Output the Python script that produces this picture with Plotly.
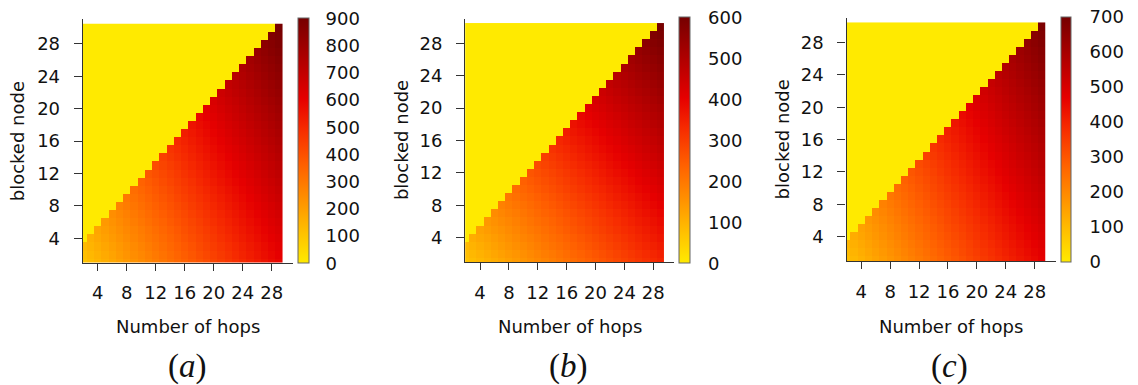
import plotly.graph_objects as go

# Axes: number of hops (columns) and blocked node position (rows)
hops = list(range(2, 30))
nodes = list(range(1, 31))
hop_ticks = [4, 8, 12, 16, 20, 24, 28]
node_ticks = [4, 8, 12, 16, 20, 24, 28]

# Each row lists the values for one blocked node, for hops >= node - 1
# (cells to the left of that are 0).
values_a = [
    [105, 123, 141, 159, 177, 195, 213, 231, 249, 267, 285, 303, 321, 339, 357, 375, 393, 411, 429, 447, 465, 483, 501, 519, 537, 555, 573, 591],
    [116, 134, 152, 170, 188, 206, 224, 242, 260, 278, 296, 314, 332, 350, 368, 386, 404, 422, 440, 458, 476, 494, 512, 530, 548, 566, 584, 602],
    [126, 144, 162, 180, 198, 216, 234, 252, 270, 288, 306, 324, 342, 360, 378, 396, 414, 432, 450, 468, 486, 504, 522, 540, 558, 576, 594, 612],
    [155, 173, 191, 209, 227, 245, 263, 281, 299, 317, 335, 353, 371, 389, 407, 425, 443, 461, 479, 497, 515, 533, 551, 569, 587, 605, 623],
    [183, 201, 219, 237, 255, 273, 291, 309, 327, 345, 363, 381, 399, 417, 435, 453, 471, 489, 507, 525, 543, 561, 579, 597, 615, 633],
    [212, 230, 248, 266, 284, 302, 320, 338, 356, 374, 392, 410, 428, 446, 464, 482, 500, 518, 536, 554, 572, 590, 608, 626, 644],
    [241, 259, 277, 295, 313, 331, 349, 367, 385, 403, 421, 439, 457, 475, 493, 511, 529, 547, 565, 583, 601, 619, 637, 655],
    [269, 287, 305, 323, 341, 359, 377, 395, 413, 431, 449, 467, 485, 503, 521, 539, 557, 575, 593, 611, 629, 647, 665],
    [298, 316, 334, 352, 370, 388, 406, 424, 442, 460, 478, 496, 514, 532, 550, 568, 586, 604, 622, 640, 658, 676],
    [326, 344, 362, 380, 398, 416, 434, 452, 470, 488, 506, 524, 542, 560, 578, 596, 614, 632, 650, 668, 686],
    [355, 373, 391, 409, 427, 445, 463, 481, 499, 517, 535, 553, 571, 589, 607, 625, 643, 661, 679, 697],
    [384, 402, 420, 438, 456, 474, 492, 510, 528, 546, 564, 582, 600, 618, 636, 654, 672, 690, 708],
    [412, 430, 448, 466, 484, 502, 520, 538, 556, 574, 592, 610, 628, 646, 664, 682, 700, 718],
    [441, 459, 477, 495, 513, 531, 549, 567, 585, 603, 621, 639, 657, 675, 693, 711, 729],
    [469, 487, 505, 523, 541, 559, 577, 595, 613, 631, 649, 667, 685, 703, 721, 739],
    [498, 516, 534, 552, 570, 588, 606, 624, 642, 660, 678, 696, 714, 732, 750],
    [527, 545, 563, 581, 599, 617, 635, 653, 671, 689, 707, 725, 743, 761],
    [555, 573, 591, 609, 627, 645, 663, 681, 699, 717, 735, 753, 771],
    [584, 602, 620, 638, 656, 674, 692, 710, 728, 746, 764, 782],
    [612, 630, 648, 666, 684, 702, 720, 738, 756, 774, 792],
    [641, 659, 677, 695, 713, 731, 749, 767, 785, 803],
    [670, 688, 706, 724, 742, 760, 778, 796, 814],
    [698, 716, 734, 752, 770, 788, 806, 824],
    [727, 745, 763, 781, 799, 817, 835],
    [755, 773, 791, 809, 827, 845],
    [784, 802, 820, 838, 856],
    [813, 831, 849, 867],
    [841, 859, 877],
    [870, 888],
    [898],
]

values_b = [
    [70, 80, 90, 100, 110, 120, 130, 140, 150, 160, 170, 180, 190, 200, 210, 220, 230, 240, 250, 260, 270, 280, 290, 300, 310, 320, 330, 340],
    [79, 89, 99, 109, 119, 129, 139, 149, 159, 169, 179, 189, 199, 209, 219, 229, 239, 249, 259, 269, 279, 289, 299, 309, 319, 329, 339, 349],
    [88, 98, 108, 118, 128, 138, 148, 158, 168, 178, 188, 198, 208, 218, 228, 238, 248, 258, 268, 278, 288, 298, 308, 318, 328, 338, 348, 358],
    [107, 117, 127, 137, 147, 157, 167, 177, 187, 197, 207, 217, 227, 237, 247, 257, 267, 277, 287, 297, 307, 317, 327, 337, 347, 357, 367],
    [126, 136, 146, 156, 166, 176, 186, 196, 206, 216, 226, 236, 246, 256, 266, 276, 286, 296, 306, 316, 326, 336, 346, 356, 366, 376],
    [145, 155, 165, 175, 185, 195, 205, 215, 225, 235, 245, 255, 265, 275, 285, 295, 305, 315, 325, 335, 345, 355, 365, 375, 385],
    [164, 174, 184, 194, 204, 214, 224, 234, 244, 254, 264, 274, 284, 294, 304, 314, 324, 334, 344, 354, 364, 374, 384, 394],
    [183, 193, 203, 213, 223, 233, 243, 253, 263, 273, 283, 293, 303, 313, 323, 333, 343, 353, 363, 373, 383, 393, 403],
    [202, 212, 222, 232, 242, 252, 262, 272, 282, 292, 302, 312, 322, 332, 342, 352, 362, 372, 382, 392, 402, 412],
    [221, 231, 241, 251, 261, 271, 281, 291, 301, 311, 321, 331, 341, 351, 361, 371, 381, 391, 401, 411, 421],
    [240, 250, 260, 270, 280, 290, 300, 310, 320, 330, 340, 350, 360, 370, 380, 390, 400, 410, 420, 430],
    [259, 269, 279, 289, 299, 309, 319, 329, 339, 349, 359, 369, 379, 389, 399, 409, 419, 429, 439],
    [278, 288, 298, 308, 318, 328, 338, 348, 358, 368, 378, 388, 398, 408, 418, 428, 438, 448],
    [297, 307, 317, 327, 337, 347, 357, 367, 377, 387, 397, 407, 417, 427, 437, 447, 457],
    [316, 326, 336, 346, 356, 366, 376, 386, 396, 406, 416, 426, 436, 446, 456, 466],
    [335, 345, 355, 365, 375, 385, 395, 405, 415, 425, 435, 445, 455, 465, 475],
    [354, 364, 374, 384, 394, 404, 414, 424, 434, 444, 454, 464, 474, 484],
    [373, 383, 393, 403, 413, 423, 433, 443, 453, 463, 473, 483, 493],
    [392, 402, 412, 422, 432, 442, 452, 462, 472, 482, 492, 502],
    [411, 421, 431, 441, 451, 461, 471, 481, 491, 501, 511],
    [430, 440, 450, 460, 470, 480, 490, 500, 510, 520],
    [449, 459, 469, 479, 489, 499, 509, 519, 529],
    [468, 478, 488, 498, 508, 518, 528, 538],
    [487, 497, 507, 517, 527, 537, 547],
    [506, 516, 526, 536, 546, 556],
    [525, 535, 545, 555, 565],
    [544, 554, 564, 574],
    [563, 573, 583],
    [582, 592],
    [599],
]

values_c = [
    [90, 104, 118, 132, 146, 160, 174, 188, 202, 216, 230, 244, 258, 272, 286, 300, 314, 328, 342, 356, 370, 384, 398, 412, 426, 440, 454, 468],
    [98, 112, 126, 140, 154, 168, 182, 196, 210, 224, 238, 252, 266, 280, 294, 308, 322, 336, 350, 364, 378, 392, 406, 420, 434, 448, 462, 476],
    [105, 119, 133, 147, 161, 175, 189, 203, 217, 231, 245, 259, 273, 287, 301, 315, 329, 343, 357, 371, 385, 399, 413, 427, 441, 455, 469, 483],
    [127, 141, 155, 169, 183, 197, 211, 225, 239, 253, 267, 281, 295, 309, 323, 337, 351, 365, 379, 393, 407, 421, 435, 449, 463, 477, 491],
    [148, 162, 176, 190, 204, 218, 232, 246, 260, 274, 288, 302, 316, 330, 344, 358, 372, 386, 400, 414, 428, 442, 456, 470, 484, 498],
    [170, 184, 198, 212, 226, 240, 254, 268, 282, 296, 310, 324, 338, 352, 366, 380, 394, 408, 422, 436, 450, 464, 478, 492, 506],
    [191, 205, 219, 233, 247, 261, 275, 289, 303, 317, 331, 345, 359, 373, 387, 401, 415, 429, 443, 457, 471, 485, 499, 513],
    [213, 227, 241, 255, 269, 283, 297, 311, 325, 339, 353, 367, 381, 395, 409, 423, 437, 451, 465, 479, 493, 507, 521],
    [234, 248, 262, 276, 290, 304, 318, 332, 346, 360, 374, 388, 402, 416, 430, 444, 458, 472, 486, 500, 514, 528],
    [256, 270, 284, 298, 312, 326, 340, 354, 368, 382, 396, 410, 424, 438, 452, 466, 480, 494, 508, 522, 536],
    [277, 291, 305, 319, 333, 347, 361, 375, 389, 403, 417, 431, 445, 459, 473, 487, 501, 515, 529, 543],
    [299, 313, 327, 341, 355, 369, 383, 397, 411, 425, 439, 453, 467, 481, 495, 509, 523, 537, 551],
    [320, 334, 348, 362, 376, 390, 404, 418, 432, 446, 460, 474, 488, 502, 516, 530, 544, 558],
    [342, 356, 370, 384, 398, 412, 426, 440, 454, 468, 482, 496, 510, 524, 538, 552, 566],
    [363, 377, 391, 405, 419, 433, 447, 461, 475, 489, 503, 517, 531, 545, 559, 573],
    [385, 399, 413, 427, 441, 455, 469, 483, 497, 511, 525, 539, 553, 567, 581],
    [406, 420, 434, 448, 462, 476, 490, 504, 518, 532, 546, 560, 574, 588],
    [428, 442, 456, 470, 484, 498, 512, 526, 540, 554, 568, 582, 596],
    [449, 463, 477, 491, 505, 519, 533, 547, 561, 575, 589, 603],
    [471, 485, 499, 513, 527, 541, 555, 569, 583, 597, 611],
    [492, 506, 520, 534, 548, 562, 576, 590, 604, 618],
    [514, 528, 542, 556, 570, 584, 598, 612, 626],
    [535, 549, 563, 577, 591, 605, 619, 633],
    [557, 571, 585, 599, 613, 627, 641],
    [578, 592, 606, 620, 634, 648],
    [600, 614, 628, 642, 656],
    [621, 635, 649, 663],
    [643, 657, 671],
    [664, 678],
    [686],
]

scale_max = [900, 600, 700]
panel_labels = ["(<i>a</i>)", "(<i>b</i>)", "(<i>c</i>)"]
x_title = "Number of hops"
y_title = "blocked node"

W, H = 1138, 385
FONT = "DejaVu Sans"
INK = "#111111"

colorscale = [
    [0.00, "#FFEA00"],
    [0.12, "#FFC200"],
    [0.25, "#FF9400"],
    [0.40, "#FF6000"],
    [0.55, "#F62A00"],
    [0.67, "#E60000"],
    [0.83, "#B00000"],
    [1.00, "#760000"],
]


def full_grid(rows):
    """Pad each row with zeros on the left so every row spans all hops."""
    return [[0] * (len(hops) - len(r)) + list(r) for r in rows]


# Pixel geometry of the three panels: plot box (left, right, top, bottom),
# colour bar box (left, right, top, bottom) and left edge of its labels.
panels = [
    dict(box=(82.8, 292.7, 19.3, 262.6), bar=(297.7, 309.3, 18.3, 263.3),
         bar_labels=326.5, ytitle_x=18.3, xtitle_x=187.8, label_x=187.0),
    dict(box=(465.2, 674.2, 18.6, 262.0), bar=(679.3, 691.0, 17.3, 263.3),
         bar_labels=709.0, ytitle_x=400.8, xtitle_x=570.0, label_x=568.3),
    dict(box=(846.5, 1055.6, 18.0, 260.9), bar=(1060.7, 1072.0, 16.7, 261.7),
         bar_labels=1090.5, ytitle_x=782.0, xtitle_x=950.7, label_x=949.7),
]

fig = go.Figure()
annotations = []
layout_axes = {}

for i, (vals, zmax, p) in enumerate(zip([values_a, values_b, values_c], scale_max, panels)):
    n = i + 1
    xa = "x" if n == 1 else f"x{n}"
    ya = "y" if n == 1 else f"y{n}"
    xa_bar, ya_bar = f"x{n + 3}", f"y{n + 3}"
    l, r, t, b = p["box"]
    bl, br, bt, bb = p["bar"]
    bar_ticks = list(range(0, zmax + 1, 100))

    fig.add_trace(go.Heatmap(
        x=hops, y=nodes, z=full_grid(vals),
        zmin=0, zmax=zmax, colorscale=colorscale,
        xaxis=xa, yaxis=ya, hoverinfo="x+y+z",
        colorbar=dict(
            x=bl / W, xanchor="left", xpad=0,
            y=1 - (bt + bb) / 2 / H, yanchor="middle", ypad=0,
            len=(bb - bt) / H, lenmode="fraction",
            thickness=br - bl - 1,
            outlinewidth=1, outlinecolor="#666666",
            tickvals=bar_ticks, showticklabels=False, ticks="",
        ),
    ))
    # Empty trace holding the value axis that labels the colour bar
    fig.add_trace(go.Scatter(
        x=[None], y=[None], mode="markers", xaxis=xa_bar, yaxis=ya_bar,
        hoverinfo="skip", showlegend=False,
    ))

    axis_common = dict(
        showgrid=False, zeroline=False, showline=True,
        linecolor="#333333", linewidth=1.3, mirror=False,
        ticks="outside", tickwidth=1.3, tickcolor="#333333",
        tickfont=dict(family=FONT, size=18, color=INK),
        fixedrange=True, automargin=False,
    )
    layout_axes["xaxis" if n == 1 else f"xaxis{n}"] = dict(
        axis_common, domain=[l / W, r / W], anchor=ya,
        range=[1.95, 30.9], tickvals=hop_ticks, ticklen=7,
        ticklabelstandoff=7,
    )
    layout_axes["yaxis" if n == 1 else f"yaxis{n}"] = dict(
        axis_common, domain=[1 - b / H, 1 - t / H], anchor=xa,
        range=[1.0, 31.05], tickvals=node_ticks, ticklen=8,
        ticklabelstandoff=10,
    )

    # Value axis spanning exactly the colour bar, labels to its right
    lab = (p["bar_labels"] - 2) / W
    layout_axes[f"xaxis{n + 3}"] = dict(
        domain=[lab - 1 / W, lab], anchor=ya_bar, visible=False,
        range=[0, 1], fixedrange=True, automargin=False,
    )
    layout_axes[f"yaxis{n + 3}"] = dict(
        domain=[1 - bb / H, 1 - bt / H], anchor=xa_bar, side="right",
        range=[0, zmax], tickvals=bar_ticks, ticks="", showline=False,
        showgrid=False, zeroline=False, fixedrange=True, automargin=False,
        tickfont=dict(family=FONT, size=18, color=INK),
    )

    annotations.append(dict(
        text=x_title, x=p["xtitle_x"] / W, y=1 - 326.0 / H,
        xref="paper", yref="paper", xanchor="center", yanchor="middle",
        showarrow=False, font=dict(family=FONT, size=18, color=INK),
    ))
    annotations.append(dict(
        text=y_title, x=p["ytitle_x"] / W, y=1 - ((t + b) / 2) / H,
        xref="paper", yref="paper", xanchor="center", yanchor="middle",
        textangle=-90, showarrow=False,
        font=dict(family=FONT, size=18, color=INK),
    ))
    annotations.append(dict(
        text=panel_labels[i], x=p["label_x"] / W, y=1 - 366.0 / H,
        xref="paper", yref="paper", xanchor="center", yanchor="middle",
        showarrow=False,
        font=dict(family="Liberation Serif", size=33, color=INK),
    ))

fig.update_layout(
    width=W, height=H,
    margin=dict(l=0, r=0, t=0, b=0, autoexpand=False),
    paper_bgcolor="white", plot_bgcolor="white",
    showlegend=False,
    annotations=annotations,
    **layout_axes,
)

fig.write_html("out.html", config={"displayModeBar": False})
